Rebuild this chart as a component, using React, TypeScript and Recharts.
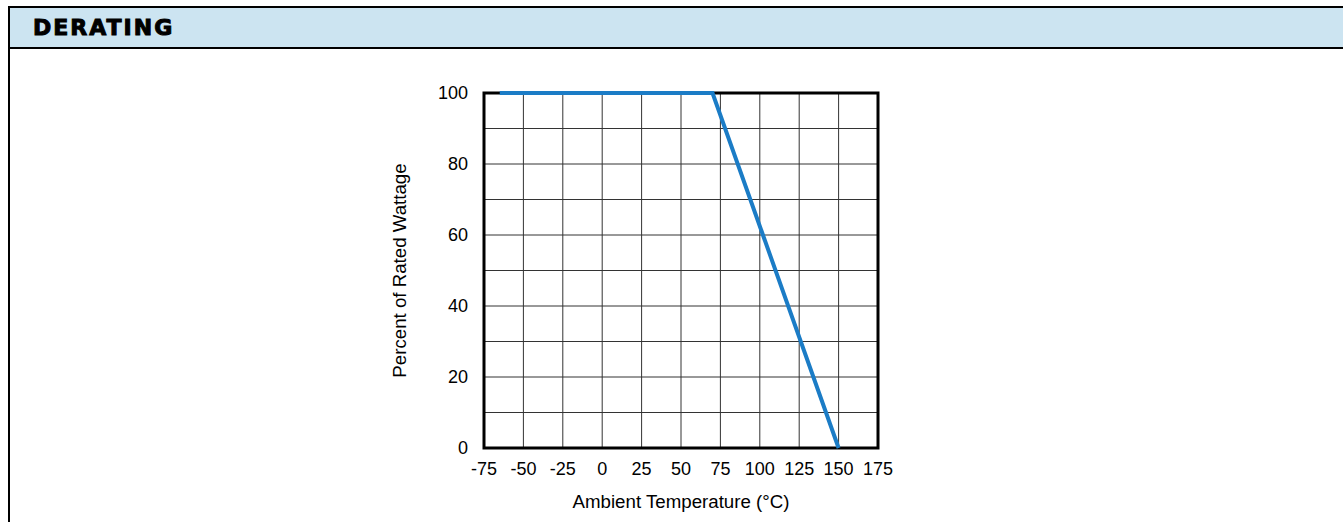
import { LineChart, Line, XAxis, YAxis, CartesianGrid, ReferenceArea } from "recharts";

const temperatures = [-65, 70, 150];
const ratedPercent = [100, 100, 0];
const xTicks = [-75, -50, -25, 0, 25, 50, 75, 100, 125, 150, 175];
const yTicks = [0, 10, 20, 30, 40, 50, 60, 70, 80, 90, 100];

const data = temperatures.map((t, i) => ({ temp: t, pct: ratedPercent[i] }));

const font = "'Liberation Sans', Arial, sans-serif";

export default function App() {
  return (
    <div style={{ position: "fixed", left: 0, top: 0, width: 1343, height: 522, background: "#fff", overflow: "hidden" }}>
      {/* frame + header */}
      <div
        style={{
          position: "absolute",
          left: 8,
          top: 6,
          width: 1400,
          height: 540,
          borderTop: "2px solid #000",
          borderLeft: "2px solid #000",
        }}
      >
        <div
          style={{
            height: 39,
            background: "#cce4f1",
            borderBottom: "2px solid #000",
            paddingLeft: 23,
            lineHeight: "39px",
            fontFamily: "'DejaVu Sans', sans-serif",
            fontWeight: 900,
            fontSize: 22,
            letterSpacing: 2,
            WebkitTextStroke: "1px #000",
            color: "#000",
          }}
        >
          DERATING
        </div>
      </div>

      <div style={{ position: "absolute", left: 0, top: 49 }}>
        <LineChart
          width={1343}
          height={473}
          data={data}
          margin={{ top: 44, right: 465, bottom: 14, left: 394 }}
        >
          <CartesianGrid stroke="#333" strokeWidth={1} />
          <XAxis
            dataKey="temp"
            type="number"
            domain={[-75, 175]}
            ticks={xTicks}
            interval={0}
            height={60}
            axisLine={false}
            tickLine={false}
            tickMargin={8}
            tick={{ fill: "#000", fontSize: 18, fontFamily: font }}
            label={{
              value: "Ambient Temperature (°C)",
              position: "insideBottom",
              offset: 0,
              fill: "#000",
              fontSize: 18.7,
              fontFamily: font,
            }}
          />
          <YAxis
            type="number"
            domain={[0, 100]}
            ticks={yTicks}
            interval={0}
            width={90}
            axisLine={false}
            tickLine={false}
            tickMargin={10}
            tickFormatter={(v: number) => (v % 20 === 0 ? String(v) : "")}
            tick={{ fill: "#000", fontSize: 18, fontFamily: font }}
            label={{
              value: "Percent of Rated Wattage",
              angle: -90,
              position: "insideLeft",
              style: { textAnchor: "middle" },
              fill: "#000",
              fontSize: 18.7,
              fontFamily: font,
            }}
          />
          <ReferenceArea x1={-75} x2={175} y1={0} y2={100} fill="none" stroke="#000" strokeWidth={3} ifOverflow="visible" />
          <Line
            dataKey="pct"
            type="linear"
            stroke="#1b7cc6"
            strokeWidth={4}
            dot={false}
            activeDot={false}
            isAnimationActive={false}
          />
        </LineChart>
      </div>
    </div>
  );
}
